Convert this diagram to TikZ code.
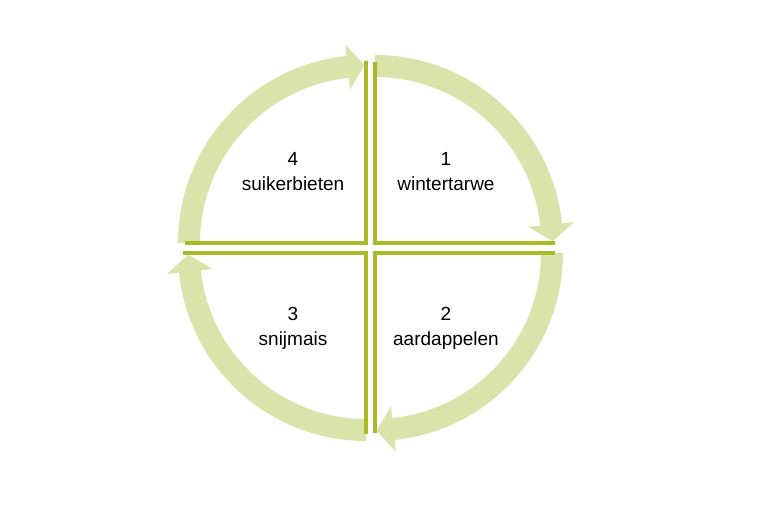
\documentclass[tikz,border=0pt]{standalone}
\usepackage{fontspec}
\setmainfont{Liberation Sans}
\usetikzlibrary{calc}
\definecolor{bandgreen}{RGB}{218,228,170}
\definecolor{olive}{RGB}{168,186,36}
\tikzset{
  band/.style={fill=bandgreen, draw=none},
  edge/.style={draw=olive, line width=4.5pt, line cap=butt, line join=miter},
  lbl/.style={anchor=base, inner sep=0pt, font=\fontsize{19}{26}\selectfont, text=black}
}
\newcommand\qbandpath{(90:188) arc[start angle=90, end angle=6, radius=188] -- (6:200) -- (177.81,1.59) -- (6:154) -- (6:166) arc[start angle=6, end angle=90, radius=166] -- cycle}
\begin{document}
\begin{tikzpicture}[x=1pt,y=1pt]
\useasboundingbox (0,0) rectangle (768,512);
\fill[white] (0,0) rectangle (768,512);
\coordinate (c1) at (375,269);
\coordinate (c2) at (375,259);
\coordinate (c3) at (366,259);
\coordinate (c4) at (366,269);
% arrow bands
\begin{scope}[shift={(c1)}]\fill[band] \qbandpath;\end{scope}
\begin{scope}[shift={(c2)},rotate=-90]\fill[band] \qbandpath;\end{scope}
\begin{scope}[shift={(c3)},rotate=-180]\fill[band] \qbandpath;\end{scope}
\begin{scope}[shift={(c4)},rotate=90]\fill[band] \qbandpath;\end{scope}
% quadrant edges
\draw[edge] ($(c1)+(0,181)$) -- (c1) -- ($(c1)+(180,0)$);
\draw[edge] ($(c2)+(180,0)$) -- (c2) -- ($(c2)+(0,-180)$);
\draw[edge] ($(c3)+(0,-181)$) -- (c3) -- ($(c3)+(-183,0)$);
\draw[edge] ($(c4)+(-181,0)$) -- (c4) -- ($(c4)+(0,182)$);
% labels
\node[lbl] (n1) at (446,346) {1};
\node[lbl] (t1) at (446,321) {wintertarwe};
\node[lbl] (n2) at (446,192) {2};
\node[lbl] (t2) at (446,167) {aardappelen};
\node[lbl] (n3) at (293,192) {3};
\node[lbl] (t3) at (293,167) {snijmais};
\node[lbl] (n4) at (293,346) {4};
\node[lbl] (t4) at (293,321) {suikerbieten};
\end{tikzpicture}
\end{document}
